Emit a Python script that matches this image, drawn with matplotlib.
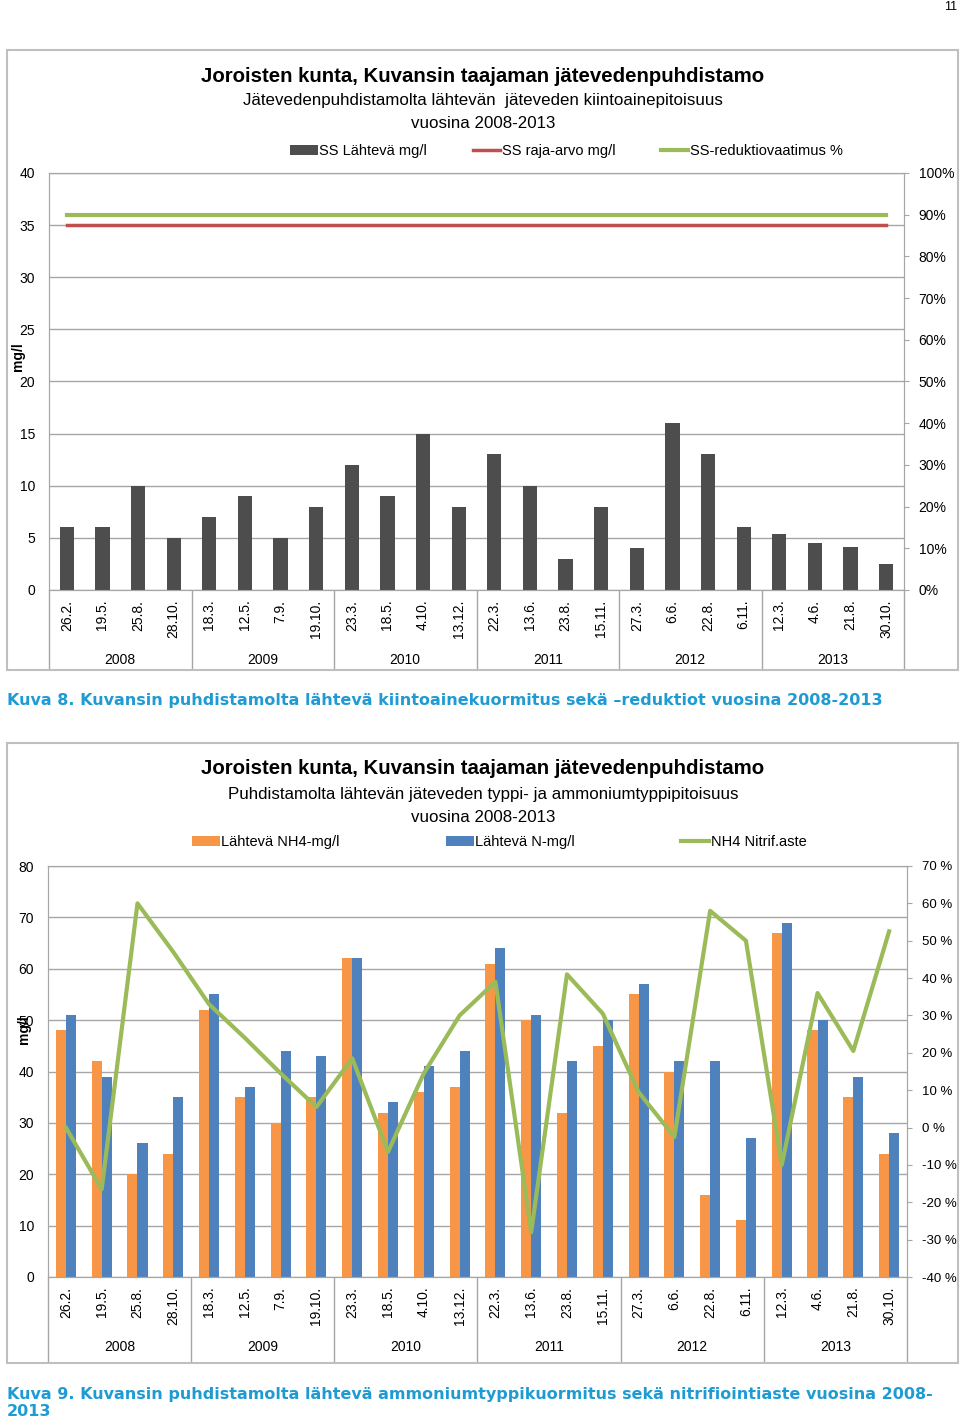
import numpy as np
import matplotlib
matplotlib.use('Agg')
import matplotlib.pyplot as plt
from matplotlib import font_manager
from matplotlib.patches import Rectangle

names = {f.name for f in font_manager.fontManager.ttflist}
NARROW = 'Liberation Sans Narrow' if 'Liberation Sans Narrow' in names else 'Liberation Sans'
plt.rcParams['font.family'] = ['Liberation Sans', 'DejaVu Sans']
plt.rcParams['axes.unicode_minus'] = False

# data
cats = ['26.2.', '19.5.', '25.8.', '28.10.', '18.3.', '12.5.', '7.9.', '19.10.',
        '23.3.', '18.5.', '4.10.', '13.12.', '22.3.', '13.6.', '23.8.', '15.11.',
        '27.3.', '6.6.', '22.8.', '6.11.', '12.3.', '4.6.', '21.8.', '30.10.']
years = ['2008', '2009', '2010', '2011', '2012', '2013']
per_year = 4

ss_out = [6, 6, 10, 5, 7, 9, 5, 8, 12, 9, 15, 8, 13, 10, 3, 8, 4, 16, 13, 6, 5.4, 4.5, 4.1, 2.5]
ss_limit = [35] * 24
ss_req = [0.90] * 24

nh4_out = [48, 42, 20, 24, 52, 35, 30, 35, 62, 32, 36, 37, 61, 50, 32, 45, 55, 40, 16, 11, 67, 48, 35, 24]
n_out = [51, 39, 26, 35, 55, 37, 44, 43, 62, 34, 41, 44, 64, 51, 42, 50, 57, 42, 42, 27, 69, 50, 39, 28]
nitrif = [0, -16.5, 60, 47, 33, 24, 14.5, 5.5, 18.5, -6.5, 14.5, 30, 39, -28, 41, 30.5, 9.5, -2.5,
          58, 50, -10, 36, 20.5, 52.5]

W, H = 960, 1425
fig = plt.figure(figsize=(W / 100, H / 100), dpi=100)

GRID = '#a6a6a6'
FRAME = '#bfbfbf'
BLUE_TXT = '#1f9bd4'
x = np.arange(len(cats))


def fx(px):
    return px / W


def fy(py):
    return 1 - py / H


def frame(top, bottom, left=7, right=958):
    fig.patches.append(Rectangle((fx(left), fy(bottom)), fx(right - left), (bottom - top) / H,
                                 transform=fig.transFigure, fill=False, ec=FRAME, lw=1.5))


def setup_axes(ax, ymax, step, frame_drop, year_drop, pad):
    ax.set_xlim(-0.5, len(cats) - 0.5)
    ax.set_ylim(0, ymax)
    ax.set_yticks(np.arange(0, ymax + 1, step))
    ax.yaxis.grid(True, color=GRID, lw=1)
    ax.set_axisbelow(True)
    for s in ax.spines.values():
        s.set_color(GRID)
    ax.tick_params(axis='y', length=0, labelsize=10, pad=10)
    ax.set_xticks(x)
    ax.set_xticklabels(cats, rotation=90, va='top', fontsize=10)
    ax.tick_params(axis='x', length=0, pad=pad)
    tr = ax.get_xaxis_transform()
    seps = np.arange(-0.5, len(cats), per_year)
    ax.vlines(seps, -frame_drop, 0, transform=tr, color=GRID, lw=1, clip_on=False)
    for i, yr in enumerate(years):
        ax.text(i * per_year + (per_year - 1) / 2, -year_drop, yr, transform=tr,
                ha='center', va='center', fontsize=10)


def setup_right(ax2, lo, hi, fmt, size=10):
    ticks = np.round(np.arange(lo, hi + 0.001, 0.1), 2)
    ax2.set_ylim(lo, hi)
    ax2.set_yticks(ticks)
    ax2.set_yticklabels([fmt(t) for t in ticks])
    ax2.tick_params(axis='y', length=3.5, color=GRID, labelsize=size, pad=7)
    for s in ax2.spines.values():
        s.set_color(GRID)


def titles(y0, sub1, sub2):
    fig.text(0.503, fy(y0), 'Joroisten kunta, Kuvansin taajaman jätevedenpuhdistamo',
             ha='center', va='center', fontsize=14.7, fontweight='bold', family=NARROW)
    fig.text(0.503, fy(y0 + 25), sub1, ha='center', va='center', fontsize=12.2, family=NARROW)
    fig.text(0.503, fy(y0 + 48), sub2, ha='center', va='center', fontsize=12.2, family=NARROW)


# ---------- Kuva 8 ----------
frame(50, 670)
titles(76, 'Jätevedenpuhdistamolta lähtevän  jäteveden kiintoainepitoisuus', 'vuosina 2008-2013')
ax = fig.add_axes([fx(49), fy(590), fx(904 - 49), (590 - 173) / H])
setup_axes(ax, 40, 5, 80 / 417, 70 / 417, 7)
bars = ax.bar(x, ss_out, width=0.4, color='#4d4d4d', label='SS Lähtevä mg/l')
red, = ax.plot(x, ss_limit, color='#c0504d', lw=2.5, label='SS raja-arvo mg/l')
ax2 = ax.twinx()
setup_right(ax2, 0, 1.0, lambda t: f'{int(round(t * 100))}%')
green, = ax2.plot(x, ss_req, color='#9bbb59', lw=3, label='SS-reduktiovaatimus %')
ax.set_zorder(ax2.get_zorder() + 1)
ax.patch.set_visible(False)
fig.text(fx(18), fy(357), 'mg/l', rotation=90, ha='center', va='center', fontsize=10, fontweight='bold')
fig.legend(handles=[bars, red, green], loc='center', bbox_to_anchor=(0.59, fy(151)), ncol=3,
           frameon=False, columnspacing=3.1, handlelength=1.9, handletextpad=0.1,
           prop={'family': NARROW, 'size': 10.5})
fig.text(fx(7), fy(700), 'Kuva 8. Kuvansin puhdistamolta lähtevä kiintoainekuormitus sekä –reduktiot vuosina 2008-2013',
         ha='left', va='center', fontsize=11.5, fontweight='bold', color=BLUE_TXT, family='DejaVu Sans')

# ---------- Kuva 9 ----------
frame(743, 1363)
titles(769, 'Puhdistamolta lähtevän jäteveden typpi- ja ammoniumtyppipitoisuus', 'vuosina 2008-2013')
bx = fig.add_axes([fx(48), fy(1277), fx(907 - 48), (1277 - 866) / H])
setup_axes(bx, 80, 10, 86 / 411, 70 / 411, 7)
bw = 0.28
b1 = bx.bar(x - bw / 2, nh4_out, width=bw, color='#f79646', label='Lähtevä NH4-mg/l')
b2 = bx.bar(x + bw / 2, n_out, width=bw, color='#4f81bd', label='Lähtevä N-mg/l')
bx2 = bx.twinx()
setup_right(bx2, -0.4, 0.7, lambda t: f'{int(round(t * 100))} %', size=9.5)
g2, = bx2.plot(x, np.array(nitrif) / 100, color='#9bbb59', lw=3, label='NH4 Nitrif.aste')
fig.text(fx(24), fy(1030), 'mg/l', rotation=90, ha='center', va='center', fontsize=10, fontweight='bold')
fig.legend(handles=[b1, b2, g2], loc='center', bbox_to_anchor=(0.52, fy(842)), ncol=3,
           frameon=False, columnspacing=7.3, handlelength=1.9, handletextpad=0.1,
           prop={'family': NARROW, 'size': 10.5})
fig.text(fx(7), fy(1403), 'Kuva 9. Kuvansin puhdistamolta lähtevä ammoniumtyppikuormitus sekä nitrifiointiaste vuosina 2008-\n2013',
         ha='left', va='center', fontsize=11.5, fontweight='bold', color=BLUE_TXT, family='DejaVu Sans',
         linespacing=1.1)

fig.text(fx(957), fy(7), '11', ha='right', va='center', fontsize=9)

fig.savefig('out.png', dpi=100)
